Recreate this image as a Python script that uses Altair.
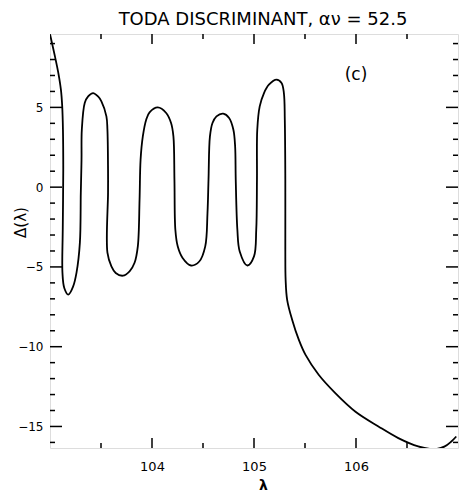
import altair as alt
import pandas as pd

# Curve Δ(λ)
lam = [103.000, 103.049, 103.081, 103.107, 103.120, 103.127, 103.130, 103.125, 103.122,
       103.140, 103.179, 103.227, 103.260, 103.293, 103.302, 103.309, 103.312, 103.341,
       103.374, 103.422, 103.471, 103.504, 103.553, 103.563, 103.569, 103.569, 103.563,
       103.602, 103.644, 103.715, 103.780, 103.829, 103.861, 103.878, 103.888, 103.910,
       103.943, 103.976, 104.057, 104.139, 104.187, 104.210, 104.220, 104.229, 104.252,
       104.300, 104.382, 104.463, 104.522, 104.544, 104.554, 104.568, 104.593, 104.632,
       104.698, 104.756, 104.798, 104.815, 104.821, 104.837, 104.860, 104.935, 105.000,
       105.022, 105.029, 105.032, 105.056, 105.098, 105.146, 105.221, 105.270, 105.293,
       105.302, 105.307, 105.307, 105.310, 105.325, 105.374, 105.439, 105.504, 105.634,
       105.797, 105.992, 106.220, 106.415, 106.610, 106.773, 106.870, 106.935, 106.983]
delta = [9.59, 8.18, 7.18, 6.11, 5.04, 3.60, 1.09, -2.67, -5.36,
         -6.32, -6.74, -6.22, -5.36, -3.48, -0.35, 1.72, 3.60, 5.29,
         5.69, 5.90, 5.69, 5.38, 4.44, 3.60, 1.09, -0.35, -4.11,
         -4.97, -5.38, -5.55, -5.28, -4.74, -3.71, -0.79, 1.72, 3.18,
         4.23, 4.69, 5.00, 4.65, 4.02, 3.18, 0.47, -2.67, -3.71,
         -4.44, -4.91, -4.66, -3.71, -1.62, 0.47, 3.18, 4.02, 4.44,
         4.61, 4.34, 3.60, 2.55, 0.47, -2.67, -4.03, -4.91, -4.34,
         -2.67, 0.47, 3.60, 5.06, 5.90, 6.42, 6.74, 6.53, 5.90,
         4.23, 0.47, -3.92, -5.80, -7.06, -8.31, -9.56, -10.50, -11.76,
         -12.91, -14.06, -15.00, -15.73, -16.25, -16.42, -16.25, -15.94, -15.63]

x_major = [104, 105, 106]
x_minor = [103.5, 104.5, 105.5, 106.5]
y_major = [-15, -10, -5, 0, 5]
y_minor = [-16, -14, -13, -12, -11, -9, -8, -7, -6, -4, -3, -2, -1, 1, 2, 3, 4, 6, 7, 8, 9]

title_text = ["TODA DISCRIMINANT, αν = 52.5"]
note_x = [106.0]
note_y = [7.0]
note_text = ["(c)"]

W, H = 408, 414
FONT = "DejaVu Sans"

curve = pd.DataFrame({"lam": lam, "delta": delta})
curve["idx"] = range(len(curve))
xscale = alt.Scale(domain=[103, 107], nice=False, zero=False)
yscale = alt.Scale(domain=[-16.35, 9.6], nice=False, zero=False)

xaxis = alt.Axis(values=x_major, ticks=False, domain=False, grid=False, labelFontSize=13,
                 labelFont=FONT, labelPadding=12, labelColor="black",
                 title="λ", titleFontSize=14, titleFont=FONT, titleFontWeight="bold",
                 titleColor="black", titleX=213, titleY=44, titleBaseline="bottom")
yaxis = alt.Axis(values=y_major, ticks=False, domain=False, grid=False, labelFontSize=12,
                 labelFont=FONT, labelPadding=7, labelColor="black",
                 title="Δ(λ)", titleFontSize=15, titleFont=FONT, titleFontWeight="normal",
                 titleColor="black", titleAngle=270, titleX=-22, titleY=188)

X = alt.X("lam:Q", scale=xscale, axis=xaxis)
Y = alt.Y("delta:Q", scale=yscale, axis=yaxis)

line = alt.Chart(curve).mark_line(color="black", strokeWidth=1.8, clip=True,
                                  interpolate="catmull-rom").encode(
    x=X, y=Y, order=alt.Order("idx:Q"))

def xticks(vals, length):
    df = pd.DataFrame({"lam": vals})
    bot = alt.Chart(df).mark_rule(color="black", strokeWidth=1.5).encode(
        x=X, y=alt.value(H), y2=alt.value(H - length))
    top = alt.Chart(df).mark_rule(color="black", strokeWidth=1.5).encode(
        x=X, y=alt.value(0), y2=alt.value(length))
    return [bot, top]

def yticks(vals, length):
    df = pd.DataFrame({"delta": vals})
    left = alt.Chart(df).mark_rule(color="black", strokeWidth=1.5).encode(
        y=Y, x=alt.value(0), x2=alt.value(length))
    right = alt.Chart(df).mark_rule(color="black", strokeWidth=1.5).encode(
        y=Y, x=alt.value(W), x2=alt.value(W - length))
    return [left, right]

note = alt.Chart(pd.DataFrame({"lam": note_x, "delta": note_y, "t": note_text})).mark_text(
    font=FONT, fontSize=17, color="black").encode(x=X, y=Y, text="t:N")

title = alt.Chart(pd.DataFrame({"t": title_text})).mark_text(
    font=FONT, fontSize=18, color="black", baseline="alphabetic", align="center").encode(
    x=alt.value(213), y=alt.value(-9), text="t:N")

layers = [line] + xticks(x_major, 10) + xticks(x_minor, 5) + yticks(y_major, 12) + yticks(y_minor, 5) + [note, title]

chart = alt.layer(*layers).properties(
    width=W, height=H,
    autosize=alt.AutoSizeParams(type="none"),
    padding={"left": 50, "top": 34, "right": 1, "bottom": 45},
).configure_view(stroke="black", strokeWidth=2).configure(background="white")

chart.save("out.html", embed_options={"renderer": "svg", "actions": False})
